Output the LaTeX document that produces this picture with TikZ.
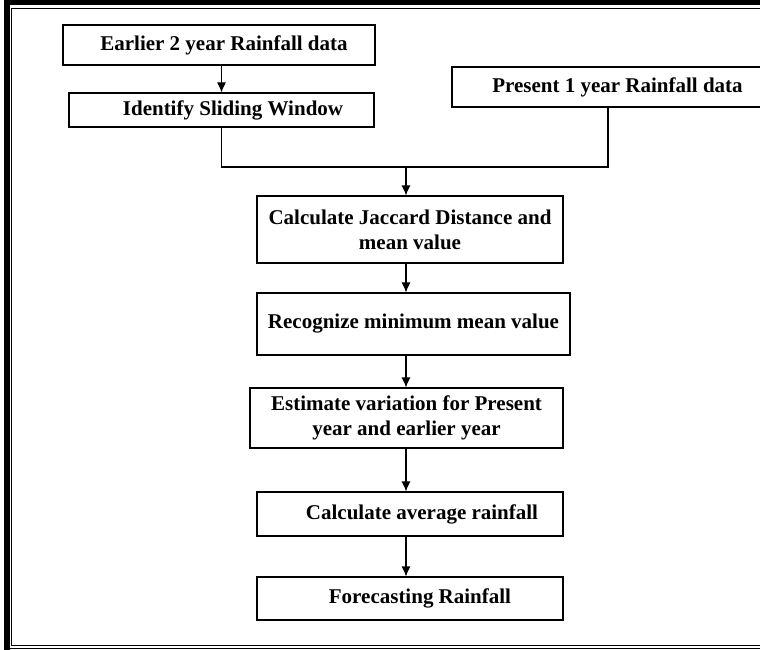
\documentclass[tikz,border=0pt]{standalone}
\usepackage{fontspec}
\setmainfont{Liberation Serif}
\usetikzlibrary{arrows.meta}

\begin{document}
\begin{tikzpicture}[x=1pt,y=-1pt,
    box/.style={draw, line width=1.1pt, inner sep=0pt, align=center,
      font=\fontsize{21}{25}\selectfont\bfseries},
    flow/.style={line width=1.1pt, -{Latex[length=10pt,width=9pt]}}]
  \useasboundingbox (0,0) rectangle (760,650);

  % Page frame: heavy bars on left and top, thin rules inside
  \fill (4,0) rectangle (10,650);
  \fill (4,0) rectangle (760,5);
  \draw[line width=0.8pt] (760,8) -- (11.5,8) -- (11.5,645) -- (760,645);
  \draw[line width=0.8pt] (10,648) -- (760,648);

  % Input boxes
  \node[box, minimum width=312pt, minimum height=40pt] (earlier) at (219,45)
    {\hspace*{10pt}Earlier 2 year Rainfall data};
  \node[box, minimum width=305pt, minimum height=34pt] (window) at (221.5,110)
    {\hspace*{23pt}Identify Sliding Window};
  \node[box, minimum width=331pt, minimum height=40pt] (present) at (617.5,87)
    {Present 1 year Rainfall data};

  % Processing steps
  \node[box, minimum width=306pt, minimum height=67pt] (jaccard) at (410,229.5)
    {Calculate Jaccard Distance and\\mean value};
  \node[box, minimum width=313pt, minimum height=62pt] (minmean) at (413.5,324)
    {Recognize minimum mean value};
  \node[box, minimum width=313pt, minimum height=60pt] (variation) at (406.5,418)
    {Estimate variation for Present\\year and earlier year};
  \node[box, minimum width=306pt, minimum height=44pt] (average) at (410,514)
    {\hspace*{24pt}Calculate average rainfall};
  \node[box, minimum width=306pt, minimum height=43pt] (forecast) at (410,598.5)
    {\hspace*{20pt}Forecasting Rainfall};

  % Connectors
  \coordinate (merge) at (406,167);
  \draw[flow] (earlier.south -| window) -- (window);
  \draw[line width=1.1pt] (window.south) |- (merge);
  \draw[line width=1.1pt] ([xshift=-9.5pt]present.south) |- (merge);
  \draw[flow] (merge) -- (merge |- jaccard.north);
  \draw[flow] (jaccard.south -| merge) -- (minmean.north -| merge);
  \draw[flow] (minmean.south -| merge) -- (variation.north -| merge);
  \draw[flow] (variation.south -| merge) -- (average.north -| merge);
  \draw[flow] (average.south -| merge) -- (forecast.north -| merge);
\end{tikzpicture}
\end{document}
